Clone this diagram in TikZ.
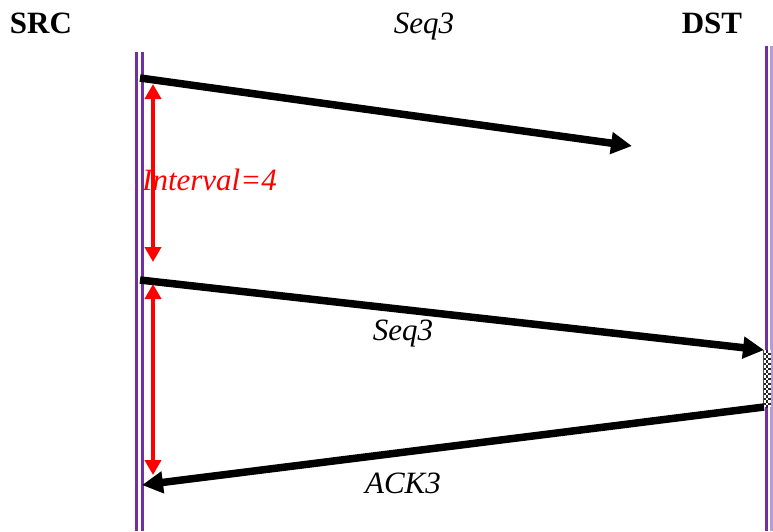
\documentclass[tikz,border=0pt]{standalone}
\usepackage{fontspec}
\setmainfont{Liberation Serif}
\usepackage{xcolor}
\usetikzlibrary{
arrows.meta
}
\definecolor{lifeline}{HTML}{7030A0}
\definecolor{lifelight}{HTML}{B89AD6}

\begin{document}
\begin{tikzpicture}[
    x=1pt, y=-1pt,
    >={Triangle[length=21pt,width=21pt]},
    every node/.style={font=\fontsize{31}{36}\selectfont, inner sep=0pt},
    host/.style={font=\fontsize{31}{36}\selectfont\bfseries, anchor=base},
    msg/.style={font=\fontsize{31}{36}\selectfont\itshape, anchor=base},
    pkt/.style={->, line width=7.5pt},
    life/.style={draw=lifeline, line width=3pt},
    gap/.style={{Triangle[length=15pt,width=16pt]}-{Triangle[length=15pt,width=16pt]},
      draw=red, line width=4pt}]
  \useasboundingbox (0,0) rectangle (773,531);
  % hosts
  \node[host] (src) at (41,33) {SRC};
  \node[host] (dst) at (712,33) {DST};
  \node[msg] (lost) at (424,33) {Seq3};
  % lifelines
  \coordinate (srcA) at (136,52);
  \coordinate (srcB) at (142,52);
  \coordinate (dstA) at (766,46);
  \coordinate (dstB) at (771,46);
  \draw[life] (srcA) -- (srcA |- 0,531);
  \draw[life] (srcB) -- (srcB |- 0,531);
  \draw[life] (dstA) -- (dstA |- 0,531);
  \draw[life, draw=lifelight] (dstB) -- (dstB |- 0,531);
  % processing at DST: small checks
  \fill[white] (763,350) rectangle (771,407);
  \begin{scope}
    \clip (763,350) rectangle (771,407);
    \foreach \r in {0,...,22}{
      \foreach \c in {0,1,2}{
        \pgfmathtruncatemacro{\odd}{mod(\r+\c,2)}
        \ifnum\odd=1
          \fill[black!85] (763+\c*2.667,350+\r*2.5) rectangle ++(2.667,2.5);
        \fi
      }
    }
  \end{scope}
  \draw[line width=1pt, black!70] (763,350) -- (763,407);
  % packets
  \coordinate (tx1) at (140,78);
  \coordinate (rx1) at (632,146);
  \coordinate (tx2) at (140,280);
  \coordinate (rx2) at (764,350);
  \coordinate (ack) at (764,407);
  \coordinate (rxa) at (142,485);
  \draw[pkt] (tx1) -- (rx1);
  \draw[pkt] (tx2) -- (rx2);
  \draw[pkt] (ack) -- (rxa);
  \node[msg] (seq) at (403,340) {Seq3};
  \node[msg] (ackl) at (403,493) {ACK3};
  % retransmission interval
  \coordinate (g1) at (153,84);
  \coordinate (g2) at (153,262);
  \coordinate (g3) at (153,284);
  \coordinate (g4) at (153,475);
  \draw[gap] (g1) -- (g2);
  \draw[gap] (g3) -- (g4);
  \node[msg, anchor=base west, text=red] (ivl) at (142,190) {Interval=4};
\end{tikzpicture}
\end{document}
